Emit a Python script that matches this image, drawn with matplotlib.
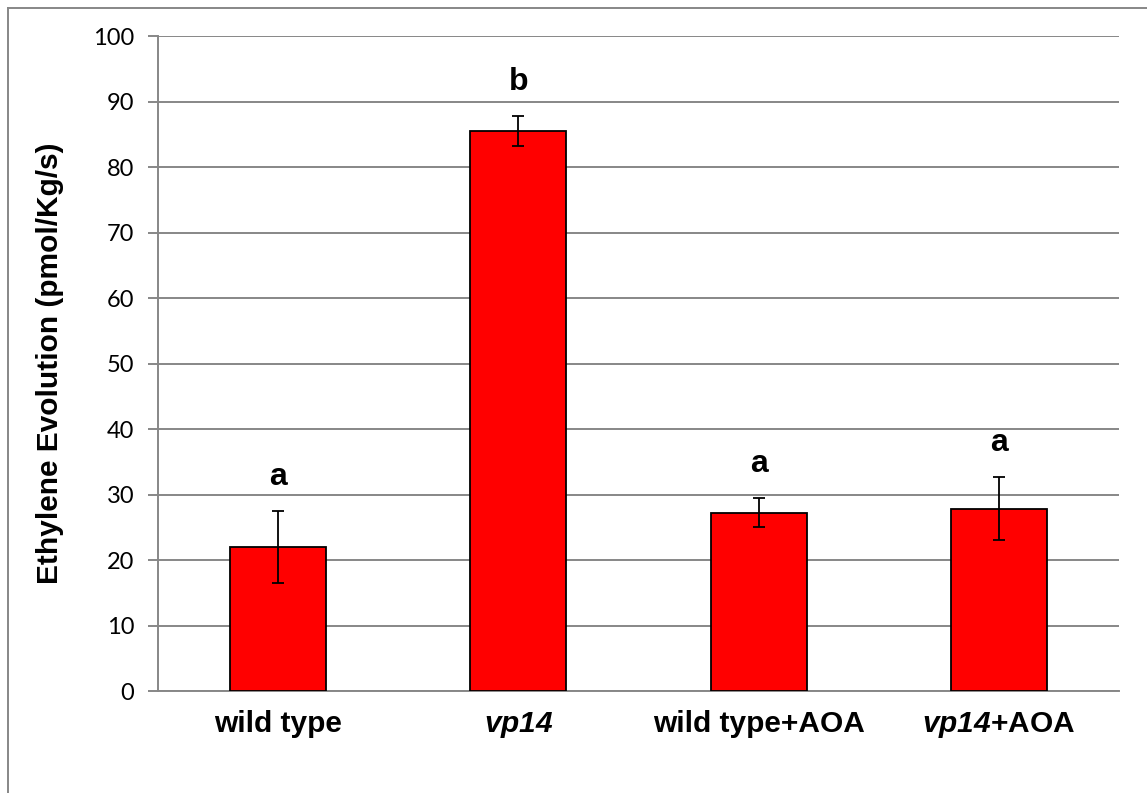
import matplotlib
matplotlib.use('Agg')
import matplotlib.pyplot as plt
from matplotlib.lines import Line2D

# Ethylene evolution per genotype / treatment
categories = ['wild type', r'$\mathbf{vp14}$', 'wild type+AOA', r'$\mathbf{vp14}$+AOA']
ethylene = [22.0, 85.5, 27.2, 27.8]
ethylene_err = [5.5, 2.3, 2.2, 4.8]
groups = ['a', 'b', 'a', 'a']
yticks = [0, 10, 20, 30, 40, 50, 60, 70, 80, 90, 100]

plt.rcParams['mathtext.fontset'] = 'custom'
plt.rcParams['mathtext.bf'] = 'Liberation Sans:italic:bold'

grid_grey = '#878787'

fig = plt.figure(figsize=(11.47, 7.93), dpi=100)
ax = fig.add_axes([0.1378, 0.1286, 0.8378, 0.8260])

x = range(len(categories))
ax.bar(x, ethylene, width=0.40, color='#ff0000', edgecolor='black',
       linewidth=1.3, zorder=3)
ax.errorbar(x, ethylene, yerr=ethylene_err, fmt='none', ecolor='black',
            elinewidth=1.3, capsize=4, capthick=1.3, zorder=4)

# significance letters above the error bars
for xi, v, e, g in zip(x, ethylene, ethylene_err, groups):
    ax.text(xi, v + e + 4, g, ha='center', va='baseline',
            fontsize=23, fontweight='bold', family='Liberation Sans')

ax.set_xlim(-0.5, 3.5)
ax.set_ylim(0, 100)
ax.set_yticks(yticks)
ax.set_yticklabels([str(t) for t in yticks], fontsize=17, family='Lato')
ax.set_xticks(list(x))
ax.set_xticklabels(categories, fontsize=21.5, fontweight='bold',
                   family='Liberation Sans')
ax.tick_params(axis='x', length=0, pad=14)
ax.tick_params(axis='y', length=7, width=1.4, color=grid_grey, pad=10)

ax.yaxis.grid(True, color=grid_grey, linewidth=1.4, zorder=0)
ax.set_axisbelow(True)
for side in ['top', 'right']:
    ax.spines[side].set_visible(False)
ax.spines['left'].set_color(grid_grey)
ax.spines['left'].set_linewidth(1.4)
ax.spines['bottom'].set_color(grid_grey)
ax.spines['bottom'].set_linewidth(1.4)

ax.set_ylabel('Ethylene Evolution (pmol/Kg/s)', fontsize=21.5,
              fontweight='bold', family='Liberation Sans')
ax.yaxis.set_label_coords(-0.098, 0.5)

# outer chart border
fig.add_artist(Line2D([0.007, 1.0], [0.99, 0.99], transform=fig.transFigure,
                      color=grid_grey, linewidth=1.4))
fig.add_artist(Line2D([0.007, 0.007], [0.0, 0.99], transform=fig.transFigure,
                      color=grid_grey, linewidth=1.4))

fig.savefig('out.png', dpi=100)
